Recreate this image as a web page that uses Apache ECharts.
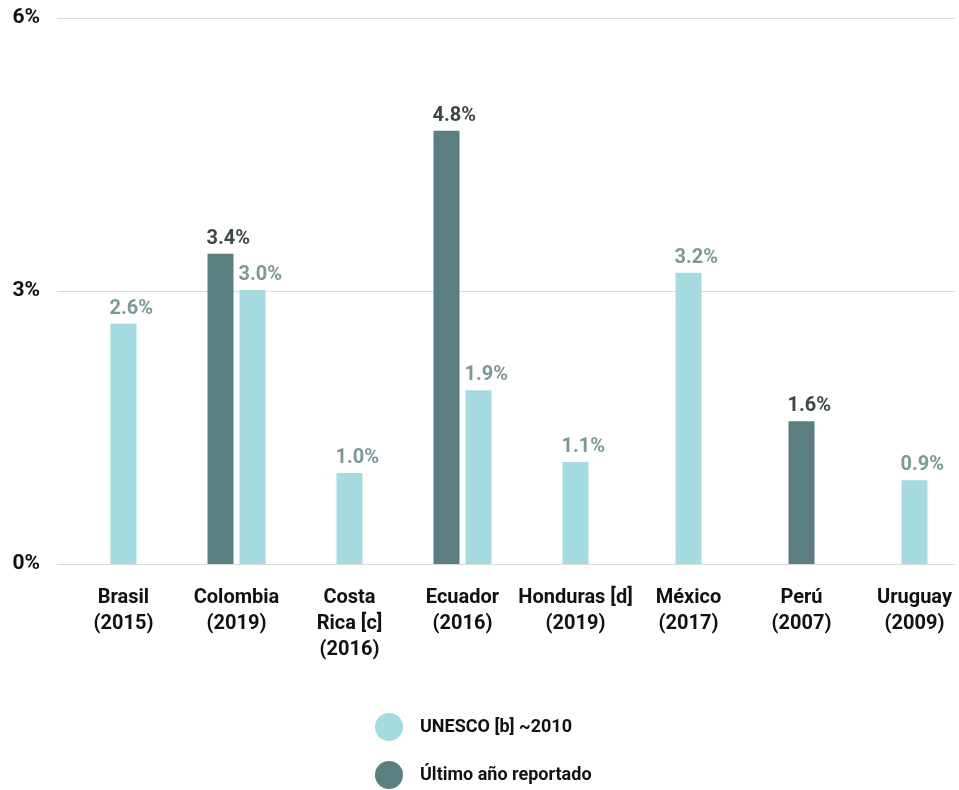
<!DOCTYPE html>
<html>
<head>
<meta charset="utf-8">
<script src="https://cdn.jsdelivr.net/npm/echarts@6/dist/echarts.min.js"></script>
<style>
  html, body { margin: 0; padding: 0; background: #fff; }
  #chart { width: 959px; height: 790px; }
</style>
</head>
<body>
<div id="chart"></div>
<script>
const categories = ['Brasil\n(2015)', 'Colombia\n(2019)', 'Costa\nRica [c]\n(2016)', 'Ecuador\n(2016)',
  'Honduras [d]\n(2019)', 'México\n(2017)', 'Perú\n(2007)', 'Uruguay\n(2009)'];
const unesco = [2.64, 3.01, 1.0, 1.91, 1.12, 3.2, null, 0.92];
const ultimo = [null, 3.41, null, 4.76, null, null, 1.57, null];
const yTicks = [0, 3, 6];

const FONT = 'Roboto';
const lightColor = '#a3dbe0';
const darkColor = '#5a7f80';
const barW = 26;
const half = 16; // offset from category center when both bars exist

function makeRender(own, other, side, labelColor, barColor) {
  return function (params, api) {
    const i = api.value(0);
    const v = own[i];
    if (v == null) return null;
    const top = api.coord([i, v]);
    const base = api.coord([i, 0]);
    let cx = top[0];
    if (other[i] != null) cx += side * half;
    return {
      type: 'group',
      children: [
        {
          type: 'rect',
          shape: { x: cx - barW / 2, y: top[1], width: barW, height: base[1] - top[1] },
          style: { fill: barColor }
        },
        {
          type: 'text',
          style: {
            text: v.toFixed(1) + '%',
            x: cx - barW / 2 - 1, y: top[1] - 5,
            align: 'left', verticalAlign: 'bottom',
            font: 'bold 20px ' + FONT,
            fill: labelColor
          }
        }
      ]
    };
  };
}

const chart = echarts.init(document.getElementById('chart'));
chart.setOption({
  animation: false,
  grid: [
    { left: 57, right: 4, top: 18, bottom: 226, outerBoundsMode: 'none' },
    { left: 67, right: -12, top: 18, bottom: 226, outerBoundsMode: 'none' }
  ],
  xAxis: [
    { type: 'category', gridIndex: 0, data: categories, show: false },
    {
      type: 'category', gridIndex: 1, data: categories,
      axisLine: { show: false }, axisTick: { show: false },
      axisLabel: {
        interval: 0, margin: 21, lineHeight: 26,
        fontFamily: FONT, fontWeight: 'bold', fontSize: 20, color: '#111'
      }
    }
  ],
  yAxis: [
    {
      type: 'value', gridIndex: 0, min: yTicks[0], max: yTicks[yTicks.length - 1], interval: 3,
      axisLine: { show: false }, axisTick: { show: false },
      axisLabel: {
        formatter: '{value}%', margin: 17, padding: [4, 0, 0, 0],
        fontFamily: FONT, fontWeight: 'bold', fontSize: 21, color: '#111'
      },
      splitLine: { lineStyle: { color: '#dcdcdc', width: 1 } }
    },
    {
      type: 'value', gridIndex: 1, min: yTicks[0], max: yTicks[yTicks.length - 1], interval: 3,
      show: false, splitLine: { show: false }
    }
  ],
  legend: {
    orient: 'vertical', left: 375, top: 713, height: 100, padding: 0,
    itemWidth: 28, itemHeight: 28, itemGap: 20,
    icon: 'circle',
    data: ['UNESCO [b] ~2010', 'Último año reportado'],
    textStyle: { fontFamily: FONT, fontWeight: 'bold', fontSize: 18, color: '#111', padding: [0, 0, 0, 12] }
  },
  series: [
    {
      name: 'UNESCO [b] ~2010', type: 'custom', xAxisIndex: 1, yAxisIndex: 1,
      itemStyle: { color: lightColor },
      data: unesco.map((v, i) => [i, v == null ? 0 : v]),
      renderItem: makeRender(unesco, ultimo, 1, '#7d9898', lightColor)
    },
    {
      name: 'Último año reportado', type: 'custom', xAxisIndex: 1, yAxisIndex: 1,
      itemStyle: { color: darkColor },
      data: ultimo.map((v, i) => [i, v == null ? 0 : v]),
      renderItem: makeRender(ultimo, unesco, -1, '#3d4848', darkColor)
    }
  ]
});
</script>
</body>
</html>
